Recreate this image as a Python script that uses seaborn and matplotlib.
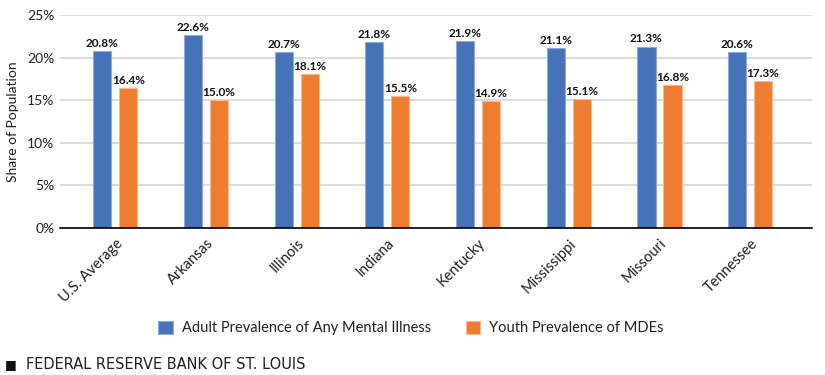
import pandas as pd
import matplotlib
matplotlib.use("Agg")
import matplotlib.pyplot as plt
import seaborn as sns

# Datos
states = ["U.S. Average", "Arkansas", "Illinois", "Indiana",
          "Kentucky", "Mississippi", "Missouri", "Tennessee"]
adult_ami = [20.8, 22.6, 20.7, 21.8, 21.9, 21.1, 21.3, 20.6]
youth_mde = [16.4, 15.0, 18.1, 15.5, 14.9, 15.1, 16.8, 17.3]
series_names = ["Adult Prevalence of Any Mental Illness", "Youth Prevalence of MDEs"]
y_ticks = [0, 5, 10, 15, 20, 25]

colors = {series_names[0]: "#4672b9", series_names[1]: "#ee7d31"}
edges = {series_names[0]: "#8fa9d8", series_names[1]: "#f6b98c"}

df = pd.DataFrame({"State": states * 2,
                   "Serie": [series_names[0]] * len(states) + [series_names[1]] * len(states),
                   "Value": adult_ami + youth_mde})

sns.set_style("white")
plt.rcParams["font.family"] = ["Lato", "DejaVu Sans"]

fig = plt.figure(figsize=(8.25, 3.75), dpi=100)
ax = fig.add_axes([0.0727, 0.392, 0.9113, 0.568])

sns.barplot(data=df, x="State", y="Value", hue="Serie", palette=colors,
            saturation=1, width=0.574, gap=0.3, ax=ax, legend=False, zorder=3)

# bordes claros como en Excel
for cont, name in zip(ax.containers, series_names):
    for bar in cont:
        bar.set_edgecolor(edges[name])
        bar.set_linewidth(0.8)
    ax.bar_label(cont, labels=[f"{v:.1f}%" for v in cont.datavalues],
                 padding=1.5, fontsize=8.5, fontweight="bold", color="#111111")

ax.set_ylim(0, 25)
ax.set_yticks(y_ticks)
ax.set_yticklabels([f"{t}%" for t in y_ticks], fontsize=10, color="#222222")
ax.set_xlim(-0.61, 7.68)
ax.set_xticks(range(len(states)))
ax.set_xticklabels(states, rotation=45, ha="right", rotation_mode="anchor",
                   fontsize=10.5, color="#222222")
ax.tick_params(axis="both", length=0, pad=4)
ax.tick_params(axis="x", pad=6)

ax.set_xlabel("")
ax.set_ylabel("Share of Population", fontsize=10, color="#222222", labelpad=6)

ax.yaxis.grid(True, color="#d9d9d9", linewidth=1.3, zorder=0)
ax.set_axisbelow(True)
for side in ["top", "right", "left"]:
    ax.spines[side].set_visible(False)
ax.spines["bottom"].set_color("black")
ax.spines["bottom"].set_linewidth(1.2)
ax.spines["bottom"].set_zorder(5)

# leyenda inferior
handles = [plt.Rectangle((0, 0), 1, 1, facecolor=colors[n], edgecolor=edges[n], linewidth=0.8)
           for n in series_names]
fig.legend(handles, series_names, loc="center", bbox_to_anchor=(0.498, 0.125),
           ncol=2, frameon=False, fontsize=10.5, handlelength=1.0, handleheight=1.0,
           columnspacing=2.4, handletextpad=0.6, labelcolor="#222222")

# pie de fuente
fig.text(0.006, 0.027, "■", fontsize=9, color="#111111", va="center",
         family=["DejaVu Sans"])
fig.text(0.031, 0.027, "FEDERAL RESERVE BANK OF ST. LOUIS", fontsize=10.5,
         color="#222222", va="center", family=["DejaVu Sans"])

fig.savefig("out.png", dpi=100)
